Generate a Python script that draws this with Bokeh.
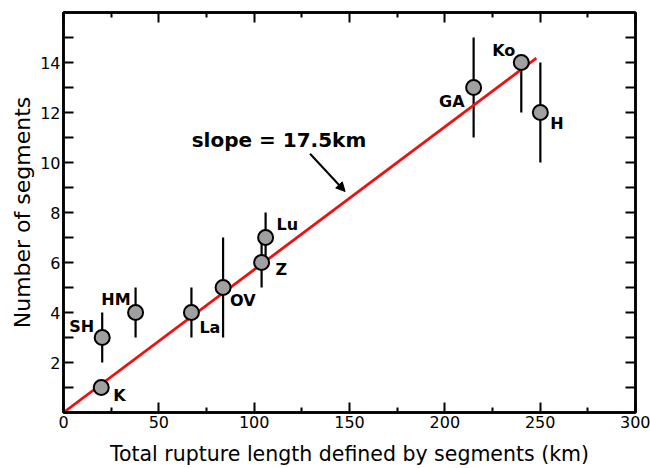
from bokeh.plotting import figure
from bokeh.models import (ColumnDataSource, LinearAxis, FixedTicker, Range1d,
                          Label, LabelSet, Arrow, NormalHead, CustomJSTickFormatter)
from bokeh.core.properties import value
from bokeh.embed import file_html
from bokeh.resources import INLINE

# ---- data ----
names = ["K", "SH", "HM", "La", "OV", "Z", "Lu", "GA", "Ko", "H"]
length_km = [19.8, 20.3, 37.8, 67.1, 83.7, 103.9, 106.0, 215.1, 240.1, 250.1]
segments = [1, 3, 4, 4, 5, 6, 7, 13, 14, 12]
seg_low = [1, 2, 3, 3, 3, 5, 6, 11, 12, 10]
seg_high = [1, 4, 5, 5, 7, 7, 8, 15, 14, 14]
slope_km = 17.5
fit_x = [0, 248]
fit_y = [v / slope_km for v in fit_x]
x_major = [0, 50, 100, 150, 200, 250, 300]
x_minor = [25, 75, 125, 175, 225, 275]
y_major = [2, 4, 6, 8, 10, 12, 14]
y_minor = [1, 3, 5, 7, 9, 11, 13, 15]

# ---- label styling (screen offsets, px) ----
lab_align = ["left", "right", "right", "left", "left", "left", "left", "right", "right", "left"]
lab_dx = [12, -8, -5, 8, 7, 14, 11, -9, -6, 10]
lab_dy = [-8, 11, 13, -15, -13, -7, 13, -14, 12, -11]

FONT = "DejaVu Sans"

src = ColumnDataSource(dict(x=length_km, y=segments, lo=seg_low, hi=seg_high,
                            name=names, align=lab_align, dx=lab_dx, dy=lab_dy))

p = figure(width=650, height=468, output_backend="svg", toolbar_location=None,
           x_range=Range1d(0, 300), y_range=Range1d(0, 16),
           min_border_left=63, min_border_right=15, min_border_top=12, min_border_bottom=56,
           x_axis_label="Total rupture length defined by segments (km)",
           y_axis_label="Number of segments")
p.grid.visible = False
p.outline_line_color = "black"
p.outline_line_width = 2.5
p.background_fill_color = "white"
p.border_fill_color = "white"

def style_axis(ax, major, minor, minor_len, labels=True):
    ax.ticker = FixedTicker(ticks=major, minor_ticks=minor)
    ax.axis_line_color = "black"
    ax.axis_line_width = 2.5
    ax.major_tick_in = 10
    ax.major_tick_out = 0
    ax.minor_tick_in = minor_len
    ax.minor_tick_out = 0
    ax.major_tick_line_width = 2
    ax.minor_tick_line_width = 2
    ax.major_tick_line_color = "black"
    ax.minor_tick_line_color = "black"
    ax.major_label_text_font = FONT
    ax.major_label_text_font_size = "16px"
    ax.major_label_text_color = "black"
    ax.major_label_standoff = 3
    ax.axis_label_text_font = FONT
    ax.axis_label_text_font_style = "normal"
    ax.axis_label_text_color = "black"
    if not labels:
        ax.major_label_text_font_size = "0px"
        ax.formatter = CustomJSTickFormatter(code="return ''")
        ax.major_label_standoff = 0

xb = p.xaxis[0]
yl = p.yaxis[0]
style_axis(xb, x_major, x_minor, 5)
style_axis(yl, y_major, y_minor, 10)
xb.axis_label_text_font_size = "20.5px"
xb.axis_label_standoff = 11
yl.axis_label_text_font_size = "22px"
yl.axis_label_standoff = 2

xt = LinearAxis()
style_axis(xt, x_major, x_minor, 5, labels=False)
p.add_layout(xt, "above")
yr = LinearAxis()
style_axis(yr, y_major, y_minor, 10, labels=False)
p.add_layout(yr, "right")

# error bars
p.segment(x0="x", y0="lo", x1="x", y1="hi", source=src, line_color="black", line_width=2.2)
# fit line
p.line(fit_x, fit_y, line_color="#f01010", line_width=2.8)
# points
p.scatter(x="x", y="y", source=src, size=15, fill_color="#a0a0a0",
          line_color="black", line_width=2)

labels = LabelSet(x="x", y="y", text="name", source=src, x_offset="dx", y_offset="dy",
                  text_align="align", text_baseline="middle", text_font=value(FONT),
                  text_font_style="bold", text_font_size="16px", text_color="black")
p.add_layout(labels)

p.add_layout(Label(x=113, y=10.92, text="slope = 17.5km", text_align="center",
                   text_baseline="middle", text_font=FONT, text_font_style="bold",
                   text_font_size="20px", text_color="black"))
p.add_layout(Arrow(x_start=129.3, y_start=10.35, x_end=147.7, y_end=8.84,
                   line_color="black", line_width=2,
                   end=NormalHead(size=9, fill_color="black", line_color="black")))

open("out.html", "w").write(file_html(p, INLINE))
